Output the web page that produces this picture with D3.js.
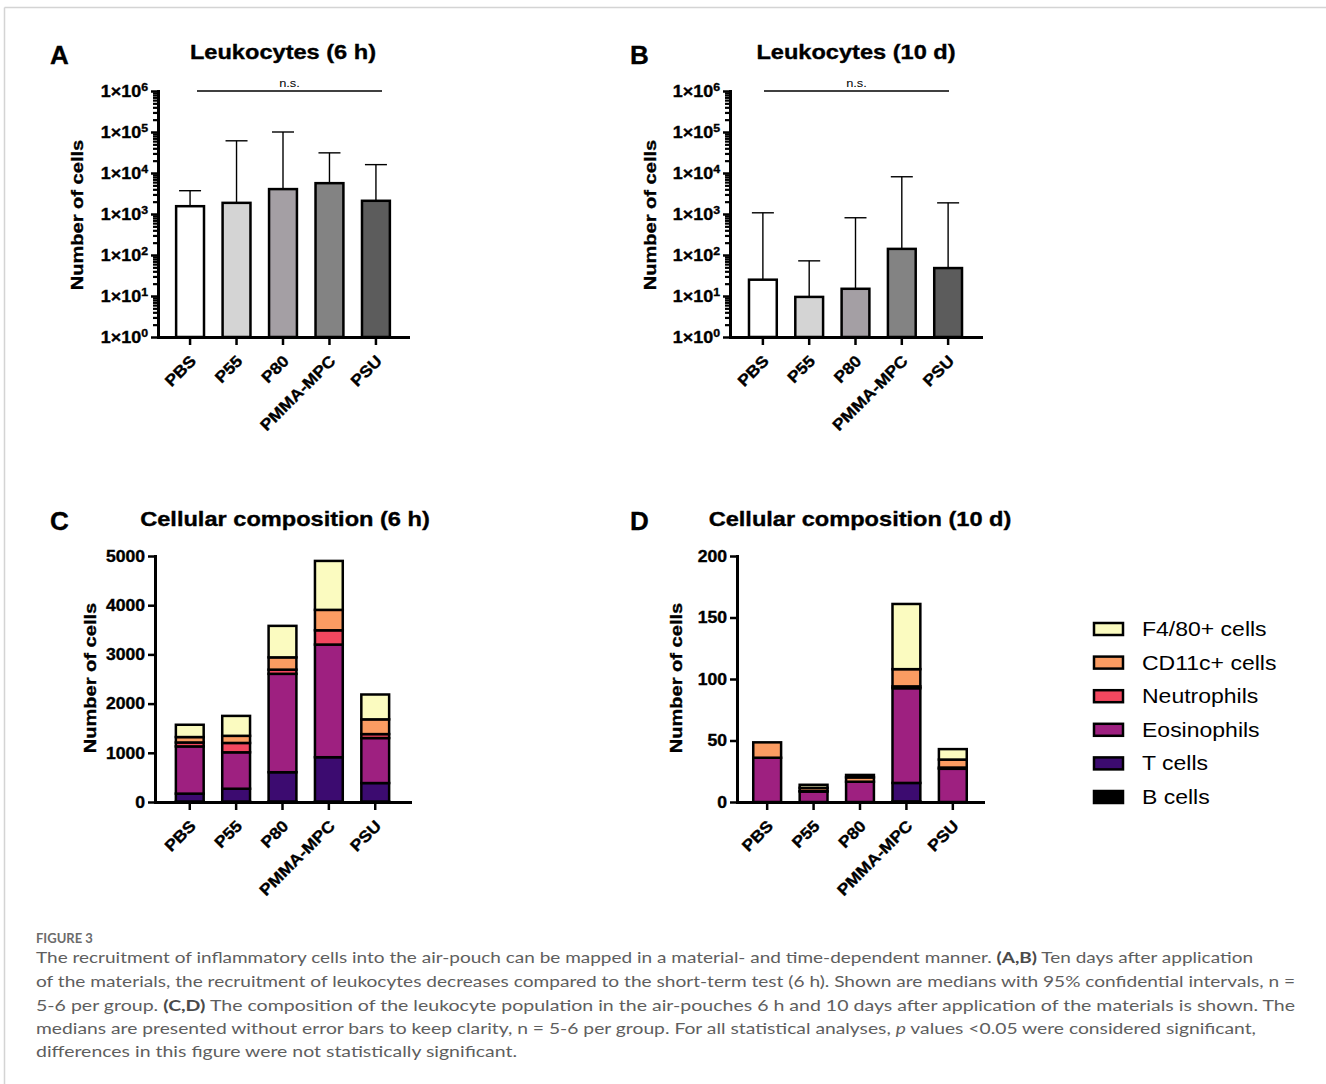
<!DOCTYPE html>
<html>
<head>
<meta charset="utf-8">
<script src="https://cdn.jsdelivr.net/npm/d3@7"></script>
<style>
  body { margin: 0; background: #fff; }
  svg { display: block; }
  text { font-family: "Liberation Sans", Arial, sans-serif; fill: #000; }
  .cap text, text.cap { font-family: Lato, "Open Sans", sans-serif; }
</style>
</head>
<body>
<svg id="fig" width="1326" height="1084"></svg>
<script>
// groups + bar colours
var groups = ["PBS", "P55", "P80", "PMMA-MPC", "PSU"];
var barFills = ["#ffffff", "#d4d4d4", "#a49fa4", "#838383", "#5c5c5c"];

// A: leukocytes 6 h (median, upper 95% CI)
var leuk6hMedian = [1550, 1870, 4050, 5650, 2100];
var leuk6hUpper = [3700, 61000, 100000, 31000, 16000];
// B: leukocytes 10 d
var leuk10dMedian = [25, 9.5, 15, 141, 48];
var leuk10dUpper = [1070, 72, 810, 8100, 1870];

// C/D: cell types, stacked bottom -> top
var cellTypes = ["B cells", "T cells", "Eosinophils", "Neutrophils", "CD11c+ cells", "F4/80+ cells"];
var cellColors = ["#000000", "#3c0b70", "#9e2080", "#f2475f", "#fb9c62", "#fbfbc0"];

var b6h = [10, 10, 10, 10, 10];
var t6h = [160, 260, 595, 900, 375];
var eos6h = [960, 740, 2000, 2290, 915];
var neut6h = [80, 190, 85, 290, 80];
var cd11c6h = [110, 145, 250, 415, 300];
var f480_6h = [250, 405, 640, 995, 505];

var b10d = [0, 0, 0, 0.5, 0];
var t10d = [0, 0, 0, 15, 0];
var eos10d = [36, 8.5, 16.5, 77, 27];
var neut10d = [0, 0.5, 0, 1.5, 1];
var cd11c10d = [12.5, 2.5, 3.5, 14, 6.5];
var f480_10d = [0, 2.5, 2, 53, 8.5];

var logTicks = [1, 10, 100, 1000, 10000, 100000, 1000000];
var ticks6h = [0, 1000, 2000, 3000, 4000, 5000];
var ticks10d = [0, 50, 100, 150, 200];

var svg = d3.select("#fig");
var K = 1.17; // Prism text is drawn wide

// thin page frame
svg.append("line").attr("x1", 4.5).attr("y1", 7.5).attr("x2", 1326).attr("y2", 7.5).attr("stroke", "#d4d4d4").attr("stroke-width", 1.5);
svg.append("line").attr("x1", 4.5).attr("y1", 7.5).attr("x2", 4.5).attr("y2", 1084).attr("stroke", "#d4d4d4").attr("stroke-width", 1.5);

function addText(parent, x, y, str, size, weight, anchor, rot, k) {
    var t = parent.append("text")
        .attr("transform", "translate(" + x + "," + y + ")" + (rot ? " rotate(" + rot + ")" : "") + " scale(" + k + ",1)")
        .attr("text-anchor", anchor)
        .style("font-size", size + "px")
        .style("font-weight", weight)
        .text(str);
    if (weight === "bold") t.attr("stroke", "#000").attr("stroke-width", 0.35);
    return t;
}

function styleAxis(a, w) {
    a.select(".domain").attr("stroke-width", 3).attr("stroke-linecap", "square");
    a.selectAll(".tick line").attr("stroke-width", w);
}

function frame(g, p, x, y) {
    // titles + letters
    addText(g, p.letterX, p.letterY, p.letter, 26, "bold", "start", 0, 1);
    addText(g, p.titleX, p.titleY, p.title, 20, "bold", "middle", 0, 1.18);
    addText(g, p.labX, p.labY, "Number of cells", 17, "bold", "middle", -90, 1.18);

    var xa = g.append("g").attr("transform", "translate(0," + p.yBot + ")")
        .call(d3.axisBottom(x).tickSize(8).tickSizeOuter(0).tickFormat(""));
    styleAxis(xa, 2.5);

    groups.forEach(function(d) {
        var cx = x(d) + x.bandwidth() / 2;
        addText(g, cx + 7, p.yBot + 25, d, 16, "bold", "end", -45, 1.1);
    });
}

function logPanel(p) {
    var g = svg.append("g");
    var y = d3.scaleLog().domain([1, 1e6]).range([p.yBot, p.yTop]);
    var x = d3.scaleBand().domain(groups).range([p.x0, p.x1]).paddingInner(0.4).paddingOuter(p.pad);

    groups.forEach(function(d, i) {
        var cx = x(d) + x.bandwidth() / 2;
        g.append("line").attr("x1", cx).attr("x2", cx)
            .attr("y1", y(p.median[i])).attr("y2", y(p.upper[i]))
            .attr("stroke", "#000").attr("stroke-width", 1.4);
        g.append("line").attr("x1", cx - 11).attr("x2", cx + 11)
            .attr("y1", y(p.upper[i])).attr("y2", y(p.upper[i]))
            .attr("stroke", "#000").attr("stroke-width", 1.4);
    });

    g.selectAll("rect.bar").data(groups).join("rect")
        .attr("class", "bar")
        .attr("x", function(d) { return x(d); })
        .attr("width", x.bandwidth())
        .attr("y", function(d, i) { return y(p.median[i]); })
        .attr("height", function(d, i) { return p.yBot - y(p.median[i]); })
        .attr("fill", function(d, i) { return barFills[i]; })
        .attr("stroke", "#000").attr("stroke-width", 2.5);

    var minor = [];
    for (var e = 0; e < 6; e++) for (var m = 2; m < 10; m++) minor.push(m * Math.pow(10, e));
    var mi = g.append("g").attr("transform", "translate(" + p.x0 + ",0)")
        .call(d3.axisLeft(y).tickValues(minor).tickSize(5).tickSizeOuter(0).tickFormat(""));
    mi.select(".domain").remove();
    mi.selectAll(".tick line").attr("stroke-width", 2.2);

    var ya = g.append("g").attr("transform", "translate(" + p.x0 + ",0)")
        .call(d3.axisLeft(y).tickValues(logTicks).tickSize(7).tickSizeOuter(0).tickFormat(""));
    styleAxis(ya, 2.5);

    logTicks.forEach(function(v) {
        var t = addText(g, p.x0 - 10, y(v), "", 16, "bold", "end", 0, 1.12).attr("dy", "0.36em");
        t.append("tspan").text("1\u00d710");
        t.append("tspan").attr("dy", "-0.5em").style("font-size", "11px").text(Math.round(Math.log10(v)));
    });

    // n.s. bracket
    g.append("line").attr("x1", p.nsX0).attr("x2", p.nsX1).attr("y1", p.yTop).attr("y2", p.yTop)
        .attr("stroke", "#000").attr("stroke-width", 1.3);
    addText(g, (p.nsX0 + p.nsX1) / 2, p.yTop - 4, "n.s.", 11, "normal", "middle", 0, K);

    frame(g, p, x, y);
}

function stackPanel(p) {
    var g = svg.append("g");
    var y = d3.scaleLinear().domain([0, p.ticks[p.ticks.length - 1]]).range([p.yBot, p.yTop]);
    var x = d3.scaleBand().domain(groups).range([p.x0, p.x1]).paddingInner(0.4).paddingOuter(p.pad);

    var rows = groups.map(function(d, i) {
        var r = { group: d };
        cellTypes.forEach(function(c, j) { r[c] = p.series[j][i]; });
        return r;
    });
    var stacked = d3.stack().keys(cellTypes)(rows);

    g.selectAll("g.layer").data(stacked).join("g")
        .attr("class", "layer")
        .attr("fill", function(d, j) { return cellColors[j]; })
        .selectAll("rect").data(function(d) { return d; }).join("rect")
        .attr("x", function(d) { return x(d.data.group); })
        .attr("width", x.bandwidth())
        .attr("y", function(d) { return y(d[1]); })
        .attr("height", function(d) { return y(d[0]) - y(d[1]); })
        .attr("stroke", "#000").attr("stroke-width", 2.5);

    var ya = g.append("g").attr("transform", "translate(" + p.x0 + ",0)")
        .call(d3.axisLeft(y).tickValues(p.ticks).tickSize(7).tickSizeOuter(0).tickFormat(""));
    styleAxis(ya, 2.5);
    p.ticks.forEach(function(v) {
        addText(g, p.x0 - 10, y(v), v, 16, "bold", "end", 0, 1.1).attr("dy", "0.36em");
    });

    frame(g, p, x, y);
}

logPanel({
    x0: 158, x1: 408, yTop: 91, yBot: 337, pad: 0.39,
    median: leuk6hMedian, upper: leuk6hUpper, nsX0: 197, nsX1: 382,
    letter: "A", letterX: 50, letterY: 64, title: "Leukocytes (6 h)", titleX: 283, titleY: 59,
    labX: 83, labY: 215
});
logPanel({
    x0: 730, x1: 981, yTop: 91, yBot: 337, pad: 0.41,
    median: leuk10dMedian, upper: leuk10dUpper, nsX0: 764, nsX1: 949,
    letter: "B", letterX: 630, letterY: 64, title: "Leukocytes (10 d)", titleX: 856, titleY: 59,
    labX: 656, labY: 215
});
stackPanel({
    x0: 155, x1: 410, yTop: 556, yBot: 802, pad: 0.45, ticks: ticks6h,
    series: [b6h, t6h, eos6h, neut6h, cd11c6h, f480_6h],
    letter: "C", letterX: 50, letterY: 530, title: "Cellular composition (6 h)", titleX: 285, titleY: 526,
    labX: 96, labY: 678
});
stackPanel({
    x0: 737, x1: 983, yTop: 556, yBot: 802, pad: 0.35, ticks: ticks10d,
    series: [b10d, t10d, eos10d, neut10d, cd11c10d, f480_10d],
    letter: "D", letterX: 630, letterY: 530, title: "Cellular composition (10 d)", titleX: 860, titleY: 526,
    labX: 682, labY: 678
});

// legend (top of stack first)
var leg = svg.append("g");
var legY = d3.scalePoint().domain(cellTypes.slice().reverse()).range([629, 797]);
cellTypes.slice().reverse().forEach(function(c) {
    var j = cellTypes.indexOf(c);
    leg.append("rect").attr("x", 1094).attr("y", legY(c) - 6).attr("width", 29).attr("height", 12)
        .attr("fill", cellColors[j]).attr("stroke", "#000").attr("stroke-width", 2.5);
    addText(leg, 1142, legY(c) + 7, c, 20, "normal", "start", 0, 1.15);
});

// caption
var cap = svg.append("g").attr("class", "cap");
cap.append("text").attr("x", 36).attr("y", 943).style("font-size", "13px").style("font-weight", "bold")
    .style("fill", "#6b6b6b").text("FIGURE 3");
var capLines = [
    [["The recruitment of inflammatory cells into the air-pouch can be mapped in a material- and time-dependent manner. ", ""], ["(A,B)", "b"], [" Ten days after application", ""]],
    [["of the materials, the recruitment of leukocytes decreases compared to the short-term test (6 h). Shown are medians with 95% confidential intervals, n =", ""]],
    [["5-6 per group. ", ""], ["(C,D)", "b"], [" The composition of the leukocyte population in the air-pouches 6 h and 10 days after application of the materials is shown. The", ""]],
    [["medians are presented without error bars to keep clarity, n = 5-6 per group. For all statistical analyses, ", ""], ["p", "i"], [" values <0.05 were considered significant,", ""]],
    [["differences in this figure were not statistically significant.", ""]]
];
var capWidths = [1217, 1259, 1259, 1220, 481];
var capBase = [963, 987, 1010.5, 1034, 1057];
capLines.forEach(function(line, i) {
    var t = cap.append("text").attr("x", 36).attr("y", capBase[i])
        .attr("xml:space", "preserve")
        .style("font-size", "16px").style("fill", "#5e5e5e");
    line.forEach(function(seg) {
        var s = t.append("tspan").text(seg[0]);
        if (seg[1] === "b") s.style("font-weight", "bold").style("fill", "#4a4a4a");
        if (seg[1] === "i") s.style("font-style", "italic");
    });
    t.attr("textLength", capWidths[i]).attr("lengthAdjust", "spacingAndGlyphs");
});
</script>
</body>
</html>
